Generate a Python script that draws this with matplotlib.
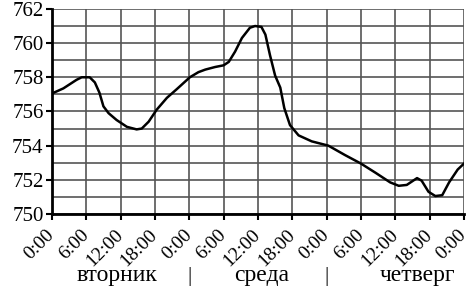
import numpy as np
import matplotlib.pyplot as plt

# hours since Tuesday 0:00 and pressure in mm Hg
hours = [0.0, 2.0, 4.3, 5.2, 6.6, 7.5, 8.3, 9.0, 9.9, 11.3, 13.1, 14.8, 15.7,
         16.9, 18.3, 20.1, 21.8, 24.1, 25.6, 26.8, 28.5, 30.0, 30.9, 32.0,
         33.2, 34.6, 35.5, 36.6, 37.3, 38.1, 39.0, 39.9, 40.6, 41.6, 43.1,
         45.4, 48.3, 51.2, 54.0, 56.6, 59.1, 60.6, 62.0, 63.8, 64.6, 65.8,
         67.0, 68.2, 69.4, 70.9, 72.0]
pressure = [757.05, 757.35, 757.85, 758.0, 758.0, 757.7, 757.1, 756.3, 755.9,
            755.5, 755.1, 754.95, 755.0, 755.4, 756.1, 756.8, 757.3, 758.0,
            758.3, 758.45, 758.6, 758.7, 758.9, 759.5, 760.3, 760.9, 761.0,
            760.95, 760.5, 759.3, 758.1, 757.4, 756.2, 755.2, 754.6, 754.25,
            754.0, 753.45, 752.95, 752.4, 751.85, 751.65, 751.7, 752.1, 751.95,
            751.3, 751.05, 751.1, 751.85, 752.6, 752.95]

tick_hours = np.arange(0, 73, 6)
tick_labels = ["0:00", "6:00", "12:00", "18:00"] * 3 + ["0:00"]
days = ["вторник", "среда", "четверг"]
day_pos = [11.4, 36.7, 63.8]
sep_pos = [24, 48]

plt.rcParams["font.family"] = ["Liberation Serif", "DejaVu Serif"]

fig = plt.figure(figsize=(4.72, 2.88), dpi=100)
ax = fig.add_axes([0.110, 0.257, 0.873, 0.712])

ax.plot(hours, pressure, color="black", lw=1.8, zorder=3)

ax.set_xlim(0, 72)
ax.set_ylim(750, 762)
ax.set_xticks(tick_hours)
ax.set_xticklabels(tick_labels, rotation=45, ha="right", va="center",
                   rotation_mode="anchor", fontsize=14)
ax.set_yticks(np.arange(750, 763, 2))
ax.set_yticks(np.arange(750, 763, 1), minor=True)
ax.tick_params(axis="y", labelsize=15, length=4, width=1.5, pad=2)
ax.tick_params(axis="y", which="minor", length=0)
ax.tick_params(axis="x", length=4, width=1.5, pad=9)

ax.grid(True, which="both", color="#555555", lw=1.2)
ax.set_axisbelow(True)
for s in ["top", "right"]:
    ax.spines[s].set_visible(False)
ax.spines["left"].set_linewidth(2)
ax.spines["bottom"].set_linewidth(2)

for d, p in zip(days, day_pos):
    ax.text(p, -0.327, d, transform=ax.get_xaxis_transform(), ha="center",
            va="baseline", fontsize=17)
for p in sep_pos:
    ax.text(p, -0.327, "|", transform=ax.get_xaxis_transform(), ha="center",
            va="baseline", fontsize=15)

fig.savefig("out.png", dpi=100)
